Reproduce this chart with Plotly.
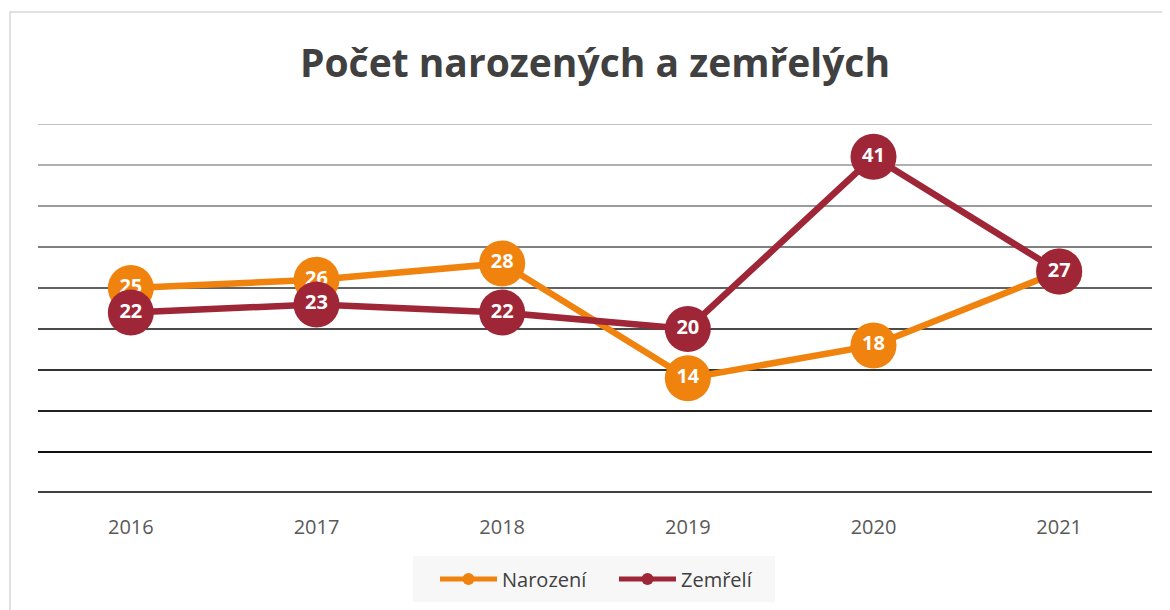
import plotly.graph_objects as go

ORANGE = "#f0820e"
CRIMSON = "#9e2636"
TEXT = "#404040"

years = ["2016", "2017", "2018", "2019", "2020", "2021"]
narozeni = [25, 26, 28, 14, 18, 27]
zemreli = [22, 23, 22, 20, 41, 27]

grid_values = [5, 10, 15, 20, 25, 30, 35, 40, 45]
grid_colors = ["#101010", "#202020", "#333333", "#4a4a4a", "#626262",
               "#808080", "#9a9a9a", "#b0b0b0", "#c4c4c4"]

# page has an 8px body margin, so the figure starts at (8, 8)
OFF = 8
W, H = 1170 - OFF, 610 - OFF
ML, MR, MT, MB = 38 - OFF, 18, 124 - OFF, 117
PW, PH = W - ML - MR, H - MT - MB
BOTTOM = 493  # page y of the plot bottom


def px(x):
    return (x - 38) / PW


def py(y):
    return (BOTTOM - y) / PH


fig = go.Figure()
for name, vals, color in [("Narození", narozeni, ORANGE), ("Zemřelí", zemreli, CRIMSON)]:
    fig.add_scatter(
        x=years,
        y=vals,
        name=name,
        mode="lines+markers+text",
        line={"color": color, "width": 6.5},
        marker={"color": color, "size": 46, "line": {"width": 0}},
        text=[str(v) for v in vals],
        textposition="middle center",
        textfont={"family": "Open Sans", "size": 20, "color": "white", "weight": "bold"},
        cliponaxis=False,
    )

shapes = []
# chart border and legend background
shapes.append(dict(type="rect", xref="paper", yref="paper",
                   x0=px(10), x1=px(1190), y0=py(630), y1=py(12),
                   line={"color": "#d6d6d6", "width": 1.5}, layer="below"))
shapes.append(dict(type="rect", xref="paper", yref="paper",
                   x0=px(413), x1=px(775), y0=py(602), y1=py(556),
                   fillcolor="#f7f7f7", line={"width": 0}, layer="below"))
for v, c in zip(grid_values, grid_colors):
    shapes.append(dict(type="line", xref="paper", yref="y", x0=0, x1=1, y0=v, y1=v,
                       line={"color": c, "width": 2}, layer="below"))
shapes.append(dict(type="line", xref="paper", yref="y", x0=0, x1=1, y0=0, y1=0,
                   line={"color": "#404040", "width": 4}, layer="below"))

fig.update_layout(
    width=W,
    height=H,
    margin={"l": ML, "r": MR, "t": MT, "b": MB},
    paper_bgcolor="white",
    plot_bgcolor="white",
    font={"family": "Open Sans", "color": TEXT},
    title={"text": "Počet narozených a zemřelých", "x": (595 - OFF) / W, "xanchor": "center",
           "y": 1 - (63 - OFF) / H, "yanchor": "middle",
           "font": {"family": "Open Sans", "size": 39, "color": TEXT, "weight": "bold"}},
    showlegend=True,
    legend={"orientation": "h", "x": px(435), "xanchor": "left", "y": py(579), "yanchor": "middle",
            "bgcolor": "rgba(0,0,0,0)", "itemsizing": "constant", "itemwidth": 57,
            "entrywidth": 107,
            "font": {"size": 20, "color": TEXT}, "tracegroupgap": 0},
    shapes=shapes,
)
fig.update_xaxes(range=[-0.5, len(years) - 0.5], showgrid=False, showline=False,
                 zeroline=False, ticks="",
                 tickfont={"size": 20, "color": "#595959"}, ticklabelstandoff=20)
fig.update_yaxes(range=[0, 45], showgrid=False, zeroline=False, showticklabels=False,
                 showline=False)

fig.write_html("out.html")
